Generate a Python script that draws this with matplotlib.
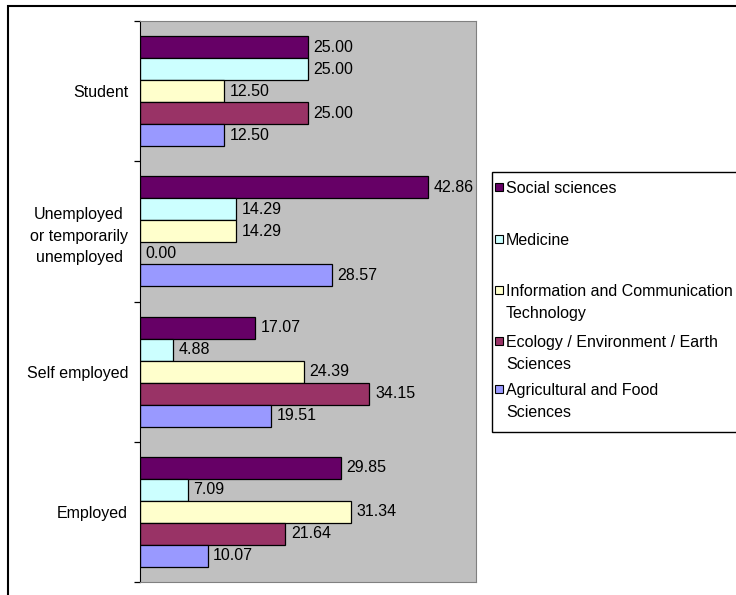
import matplotlib.pyplot as plt
from matplotlib.patches import Rectangle
import numpy as np

plt.rcParams['font.family'] = ['Liberation Sans', 'DejaVu Sans']
plt.rcParams['font.size'] = 11.5

# groups listed bottom to top, the way barh stacks them
groups = ['Employed', 'Self employed', 'Unemployed\nor temporarily\nunemployed', 'Student']

fields = ['Social sciences', 'Medicine', 'Information and Communication\nTechnology',
          'Ecology / Environment / Earth\nSciences', 'Agricultural and Food\nSciences']
colors = ['#660066', '#CCFFFF', '#FFFFCC', '#993366', '#9999FF']

social = [29.85, 17.07, 42.86, 25.00]
medicine = [7.09, 4.88, 14.29, 25.00]
ict = [31.34, 24.39, 14.29, 12.50]
ecology = [21.64, 34.15, 0.00, 25.00]
agri = [10.07, 19.51, 28.57, 12.50]
series = [social, medicine, ict, ecology, agri]

W, H = 736, 595
fig = plt.figure(figsize=(W / 100, H / 100), dpi=100)

def fx(px):
    return px / W

def fy(py):
    return 1 - py / H

ax = fig.add_axes([fx(140), fy(582), fx(476) - fx(140), fy(21) - fy(582)])
ax.set_facecolor('#C0C0C0')

pos = np.arange(len(groups))
h = 0.157
for i, (vals, c) in enumerate(zip(series, colors)):
    bars = ax.barh(pos + (2 - i) * h, vals, height=h, color=c,
                   edgecolor='black', linewidth=0.9)
    ax.bar_label(bars, fmt='%.2f', padding=4)

ax.set_xlim(0, 50)
ax.set_ylim(-0.5, len(groups) - 0.5)
ax.set_xticks([])
ax.set_yticks(pos)
ax.set_yticklabels(groups, multialignment='center', linespacing=1.55)
ax.set_yticks(np.arange(len(groups) + 1) - 0.5, minor=True)
ax.tick_params(axis='y', which='major', length=0, pad=8.6)
ax.tick_params(axis='y', which='minor', length=4, width=0.9, direction='out')
for s in ['top', 'right', 'bottom']:
    ax.spines[s].set_color('#808080')
ax.spines['left'].set_color('black')

# outer chart frame, cut off at the right and bottom
fig.patches.append(Rectangle((fx(8), fy(H + 20)), 1.2, fy(6) - fy(H + 20),
                             transform=fig.transFigure, fill=False,
                             edgecolor='black', linewidth=1.5))

# legend drawn by hand so the swatch sits on the first line of each label
fig.patches.append(Rectangle((fx(492), fy(432)), 1.0, fy(172) - fy(432),
                             transform=fig.transFigure, facecolor='white',
                             edgecolor='black', linewidth=1.0))
leg_y = [188, 240, 291, 342, 390]
for lab, c, y in zip(fields, colors, leg_y):
    fig.patches.append(Rectangle((fx(494.5), fy(y + 3)), fx(8), fy(0) - fy(8),
                                 transform=fig.transFigure, facecolor=c,
                                 edgecolor='black', linewidth=0.8))
    fig.text(fx(506), fy(y - 7), lab, ha='left', va='top', linespacing=1.55)

fig.savefig('out.png', dpi=100)
